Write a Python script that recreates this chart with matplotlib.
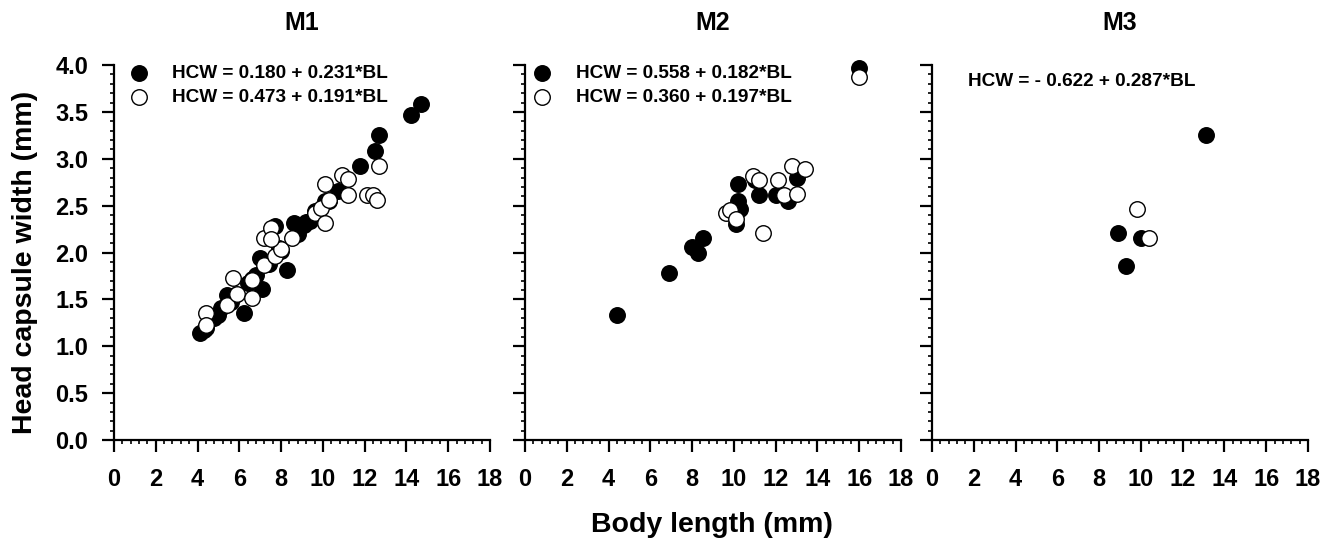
import numpy as np
import matplotlib
matplotlib.use("Agg")
import matplotlib.pyplot as plt
from matplotlib.ticker import MultipleLocator, FormatStrFormatter

plt.rcParams["font.family"] = ["Liberation Sans", "DejaVu Sans"]
plt.rcParams["font.weight"] = "bold"

# ---------------------------------------------------------------------------
# Data
# ---------------------------------------------------------------------------

PANELS = ["M1", "M2", "M3"]

# M1 - filled symbols
m1_black_bl = [4.1, 4.3, 4.4, 4.8, 5.0, 5.1, 5.4, 5.6, 5.8, 6.2, 6.4, 6.6, 6.8,
               7.0, 7.1, 7.4, 7.7, 7.9, 8.0, 8.3, 8.6, 8.8, 9.1, 9.2, 9.4, 9.6,
               10.1, 10.3, 10.7, 11.8, 12.5, 12.7, 14.2, 14.7]
m1_black_hcw = [1.14, 1.17, 1.2, 1.3, 1.33, 1.41, 1.55, 1.47, 1.55, 1.36, 1.68,
                1.72, 1.76, 1.94, 1.61, 1.88, 2.28, 2.05, 2.02, 1.81, 2.31, 2.2,
                2.29, 2.33, 2.34, 2.44, 2.55, 2.55, 2.66, 2.92, 3.08, 3.25, 3.47,
                3.58]

# M1 - open symbols
m1_white_bl = [4.4, 4.4, 5.4, 5.7, 5.9, 6.6, 6.6, 7.2, 7.7, 8.0, 7.2, 7.5,
               7.5, 8.5, 9.6, 9.9, 10.1, 10.3, 10.1, 10.9, 11.2, 11.2, 12.1,
               12.4, 12.6, 12.7]
m1_white_hcw = [1.35, 1.23, 1.44, 1.73, 1.56, 1.51, 1.71, 1.87, 1.96, 2.04,
                2.15, 2.26, 2.14, 2.15, 2.42, 2.47, 2.31, 2.56, 2.73, 2.83,
                2.78, 2.61, 2.61, 2.61, 2.56, 2.92]

# M2
m2_black_bl = [4.4, 6.9, 8.0, 8.3, 8.5, 10.2, 10.2, 10.3, 10.1, 11.2, 11.0,
               12.0, 12.6, 13.0, 16.0]
m2_black_hcw = [1.33, 1.78, 2.06, 2.0, 2.16, 2.73, 2.55, 2.46, 2.3, 2.61, 2.77,
                2.61, 2.55, 2.8, 3.97]
m2_white_bl = [9.6, 9.8, 10.1, 10.9, 11.2, 11.4, 12.1, 12.4, 12.8, 13.0, 13.4,
               16.0]
m2_white_hcw = [2.42, 2.45, 2.36, 2.82, 2.77, 2.21, 2.77, 2.61, 2.92, 2.62,
                2.89, 3.87]

# M3
m3_black_bl = [8.9, 9.3, 10.0, 13.1]
m3_black_hcw = [2.21, 1.86, 2.15, 3.25]
m3_white_bl = [9.8, 10.4]
m3_white_hcw = [2.46, 2.16]

EQ_BLACK = ["HCW = 0.180 + 0.231*BL", "HCW = 0.558 + 0.182*BL", None]
EQ_WHITE = ["HCW = 0.473 + 0.191*BL", "HCW = 0.360 + 0.197*BL", None]
EQ_M3 = "HCW = - 0.622 + 0.287*BL"

black_sets = [(m1_black_bl, m1_black_hcw), (m2_black_bl, m2_black_hcw),
              (m3_black_bl, m3_black_hcw)]
white_sets = [(m1_white_bl, m1_white_hcw), (m2_white_bl, m2_white_hcw),
              (m3_white_bl, m3_white_hcw)]

# ---------------------------------------------------------------------------
# Plotting
# ---------------------------------------------------------------------------

fig = plt.figure(figsize=(13.35, 5.41), dpi=100)
lefts = [114 / 1335, 525 / 1335, 932 / 1335]
bottom = 1 - 440 / 541
height = 375 / 541
width = 376 / 1335
legend_x = [0.04, 0.021, None]

MS = 125

for i, name in enumerate(PANELS):
    ax = fig.add_axes([lefts[i], bottom, width, height])
    bx, by = black_sets[i]
    wx, wy = white_sets[i]
    hb = ax.scatter(bx, by, s=MS, color="black", edgecolors="black",
                    linewidths=1, zorder=2, clip_on=False)
    hw = ax.scatter(wx, wy, s=MS, color="white", edgecolors="black",
                    linewidths=1, zorder=3, clip_on=False)

    ax.set_xlim(0, 18)
    ax.set_ylim(0, 4.0)
    ax.xaxis.set_major_locator(MultipleLocator(2))
    ax.xaxis.set_minor_locator(MultipleLocator(0.4))
    ax.yaxis.set_major_locator(MultipleLocator(0.5))
    ax.yaxis.set_minor_locator(MultipleLocator(0.1))
    ax.yaxis.set_major_formatter(FormatStrFormatter("%.1f"))

    for side in ["top", "right"]:
        ax.spines[side].set_visible(False)
    for side in ["left", "bottom"]:
        ax.spines[side].set_linewidth(1.6)

    ax.tick_params(which="major", direction="out", length=8.5, width=1.6,
                   labelsize=17)
    ax.tick_params(axis="x", which="major", pad=12)
    ax.tick_params(axis="y", which="major", pad=10)
    ax.tick_params(which="minor", direction="out", length=3, width=1.2)
    for lab in ax.get_xticklabels() + ax.get_yticklabels():
        lab.set_fontweight("bold")
    if i > 0:
        ax.tick_params(axis="y", labelleft=False)

    ax.set_title(name, fontsize=18, fontweight="bold", pad=25)

    if EQ_BLACK[i] is not None:
        ax.legend([hb, hw], [EQ_BLACK[i], EQ_WHITE[i]], loc="upper left",
                  bbox_to_anchor=(legend_x[i], 1.0), frameon=False,
                  prop={"size": 13.7, "weight": "bold"}, handlelength=1.0,
                  handletextpad=1.25, labelspacing=0.32, borderpad=0,
                  borderaxespad=0, scatterpoints=1)
    else:
        ax.text(0.097, 0.955, EQ_M3, transform=ax.transAxes, fontsize=13.7,
                fontweight="bold", va="center", ha="left")

fig.text(25 / 1335, 1 - 262 / 541, "Head capsule width (mm)", fontsize=20.5,
         fontweight="bold", rotation=90, ha="center", va="center")
fig.text(712 / 1335, 1 - 525 / 541, "Body length (mm)", fontsize=20.5,
         fontweight="bold", ha="center", va="center")

fig.savefig("out.png", dpi=100)
